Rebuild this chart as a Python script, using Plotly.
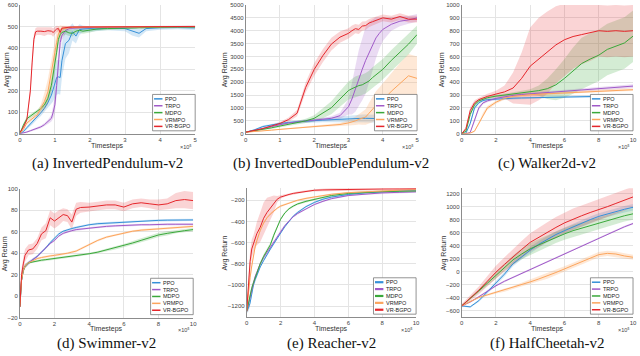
import plotly.graph_objects as go

W, H = 640, 356

names = ["PPO", "TRPO", "MDPO", "VRMPO", "VR-BGPO"]
line_colors = ["#3590d8", "#a05ac8", "#3aa83a", "#fca55d", "#e5262b"]
band_colors = ["rgba(53,144,216,0.22)", "rgba(160,90,200,0.22)", "rgba(58,168,58,0.22)",
               "rgba(252,165,93,0.25)", "rgba(229,38,43,0.2)"]

captions = ["(a) InvertedPendulum-v2", "(b) InvertedDoublePendulum-v2", "(c) Walker2d-v2",
            "(d) Swimmer-v2", "(e) Reacher-v2", "(f) HalfCheetah-v2"]

# ---------------- (a) InvertedPendulum ----------------
a_x = [0, 0.1, 0.2, 0.3, 0.35, 0.4, 0.45, 0.5, 0.6, 0.7, 0.8, 0.9, 0.95, 1.0, 1.05, 1.1, 1.15, 1.2,
       1.3, 1.4, 1.5, 1.6, 1.7, 1.8, 2.0, 2.2, 2.5, 3.0, 3.2, 3.4, 3.6, 4.0, 4.5, 5.0]
a_ppo = [0, 10, 28, 45, 52, 60, 68, 80, 98, 118, 145, 180, 210, 240, 262, 265, 262, 340,
         420, 435, 475, 455, 485, 488, 490, 488, 492, 490, 478, 468, 490, 494, 495, 493]
a_ppo_sd = [0, 5, 8, 10, 10, 10, 10, 12, 15, 18, 25, 40, 60, 70, 80, 80, 80, 80,
            70, 60, 40, 35, 25, 15, 12, 10, 10, 12, 20, 20, 12, 10, 8, 10]
a_trpo = [0, 3, 8, 14, 17, 20, 22, 25, 32, 42, 55, 72, 100, 135, 225, 350, 425, 458,
          480, 490, 492, 493, 494, 494, 495, 495, 496, 496, 497, 497, 497, 498, 498, 498]
a_trpo_sd = [0, 2, 3, 4, 4, 4, 5, 5, 6, 8, 10, 15, 30, 40, 50, 50, 40, 25,
             15, 10, 8, 6, 6, 6, 5, 5, 5, 4, 4, 4, 4, 3, 3, 3]
a_mdpo = [0, 40, 70, 82, 88, 92, 97, 103, 118, 134, 165, 226, 272, 318, 380, 440, 462, 472,
          478, 470, 468, 478, 482, 478, 482, 488, 490, 493, 494, 495, 495, 496, 497, 497]
a_mdpo_sd = [0, 8, 10, 10, 10, 10, 10, 10, 12, 15, 25, 35, 40, 40, 40, 30, 25, 20,
             15, 15, 15, 12, 12, 12, 10, 8, 8, 6, 5, 5, 5, 4, 4, 4]
a_vrmpo = [0, 20, 50, 65, 72, 78, 83, 88, 118, 150, 195, 280, 330, 380, 426, 465, 480, 488,
           492, 494, 495, 496, 496, 497, 497, 497, 498, 498, 498, 498, 498, 499, 499, 499]
a_vrmpo_sd = [0, 5, 8, 10, 10, 10, 10, 12, 20, 40, 60, 70, 70, 60, 50, 35, 25, 15,
              10, 8, 6, 5, 5, 5, 4, 4, 4, 3, 3, 3, 3, 3, 3, 3]
a_vrbgpo = [5, 30, 65, 200, 330, 440, 475, 478, 478, 476, 480, 478, 472, 480, 488, 490, 472, 492,
            495, 496, 497, 497, 497, 497, 498, 498, 498, 499, 499, 499, 499, 500, 500, 500]
a_vrbgpo_sd = [2, 5, 8, 20, 25, 25, 18, 18, 18, 20, 18, 18, 20, 18, 15, 12, 15, 10,
               6, 5, 4, 4, 4, 4, 3, 3, 3, 3, 3, 3, 3, 3, 3, 3]

# ---------------- (b) InvertedDoublePendulum ----------------
b_x = [0, 0.25, 0.5, 0.75, 1.0, 1.25, 1.5, 1.75, 2.0, 2.25, 2.5, 2.75,
       3.0, 3.1, 3.2, 3.3, 3.4, 3.5, 3.6, 3.7, 3.8, 3.9, 4.0, 4.25, 4.5, 4.75, 5.0]
b_ppo = [60, 150, 280, 350, 400, 440, 470, 490, 510, 530, 550, 570,
         580, 585, 590, 595, 600, 600, 600, 600, 600, 595, 590, 580, 570, 560, 550]
b_ppo_sd = [20, 30, 40, 40, 40, 50, 50, 60, 70, 80, 100, 120,
            130, 140, 150, 150, 150, 150, 150, 150, 150, 150, 150, 150, 150, 150, 150]
b_trpo = [60, 120, 200, 280, 350, 420, 460, 490, 520, 560, 600, 700,
          1050, 1350, 1750, 2150, 2500, 2850, 3150, 3450, 3720, 3900, 4050, 4250, 4370, 4420, 4500]
b_trpo_sd = [20, 30, 30, 30, 30, 40, 40, 50, 50, 60, 80, 120,
             300, 600, 900, 1100, 1200, 1300, 1200, 1000, 800, 600, 450, 250, 200, 150, 150]
b_mdpo = [60, 110, 170, 230, 300, 360, 420, 500, 600, 800, 1010, 1350,
          1680, 1750, 1820, 1870, 1900, 1960, 2050, 2180, 2280, 2380, 2500, 2850, 3150, 3480, 3850]
b_mdpo_sd = [20, 20, 30, 30, 40, 50, 60, 80, 120, 200, 250, 300,
             350, 380, 400, 400, 400, 400, 400, 400, 400, 400, 400, 400, 400, 400, 350]
b_vrmpo = [60, 80, 110, 140, 170, 200, 230, 260, 290, 310, 330, 360,
           420, 450, 500, 560, 600, 650, 800, 950, 1100, 1200, 1300, 1650, 1950, 2250, 2150]
b_vrmpo_sd = [10, 15, 15, 20, 20, 20, 25, 25, 30, 30, 40, 60,
              100, 130, 160, 200, 250, 300, 400, 500, 550, 600, 650, 700, 800, 850, 850]
b_vrbgpo = [60, 120, 200, 300, 400, 550, 800, 1800, 2500, 3030, 3480, 3750,
            3900, 4000, 4080, 4050, 4180, 4200, 4300, 4350, 4400, 4450, 4500, 4450, 4550, 4450, 4450]
b_vrbgpo_sd = [20, 30, 40, 50, 60, 80, 120, 200, 250, 250, 250, 220,
               200, 200, 180, 180, 180, 170, 160, 150, 150, 140, 130, 130, 130, 130, 130]

# ---------------- (c) Walker2d ----------------
c_x = [0, 0.25, 0.5, 0.75, 1.0, 1.25, 1.5, 2, 2.5, 3, 3.5, 4, 4.5, 5, 5.5, 6, 6.5, 7, 7.5, 8, 8.5, 9, 9.5, 10]
c_ppo = [0, 5, 80, 200, 240, 258, 265, 270, 273, 276, 278, 280, 282, 284, 285, 286, 287, 288, 289, 290, 290, 290, 290, 290]
c_ppo_sd = [0, 3, 15, 15, 10, 8, 8, 8, 8, 8, 8, 8, 8, 8, 8, 8, 8, 8, 8, 8, 8, 8, 8, 8]
c_trpo = [0, 0, 10, 100, 200, 240, 255, 275, 288, 298, 305, 310, 315, 320, 325, 330, 335, 340, 345, 350, 355, 360, 365, 370]
c_trpo_sd = [0, 0, 5, 15, 15, 10, 10, 10, 10, 10, 10, 10, 10, 10, 10, 10, 10, 10, 10, 12, 12, 14, 14, 15]
c_mdpo = [0, 20, 150, 225, 255, 270, 280, 292, 300, 310, 318, 325, 335, 350, 380, 430, 490, 545, 580, 610, 655, 680, 705, 758]
c_mdpo_sd = [0, 5, 15, 15, 12, 10, 10, 10, 10, 12, 15, 20, 40, 80, 120, 150, 180, 200, 200, 200, 200, 200, 200, 200]
c_vrmpo = [0, 0, 5, 20, 80, 150, 200, 245, 275, 290, 298, 303, 307, 310, 315, 318, 322, 326, 330, 333, 336, 339, 341, 342]
c_vrmpo_sd = [0, 0, 3, 5, 10, 15, 15, 12, 10, 10, 10, 10, 10, 10, 10, 10, 10, 10, 10, 10, 10, 10, 10, 10]
c_vrbgpo = [0, 40, 180, 240, 265, 280, 290, 308, 325, 355, 430, 525, 580, 630, 690, 730, 755, 770, 785, 800, 795, 800, 795, 800]
c_vrbgpo_sd = [0, 15, 25, 20, 15, 15, 20, 25, 50, 120, 200, 300, 320, 320, 300, 280, 250, 230, 220, 200, 200, 200, 200, 200]

# ---------------- (d) Swimmer ----------------
d_x = [0, 0.1, 0.2, 0.3, 0.5, 0.75, 1.0, 1.25, 1.5, 1.75, 2.0, 2.25, 2.5, 2.75, 3.0, 3.25, 3.5,
       4, 4.5, 5, 5.5, 6, 6.5, 7, 7.5, 8, 8.5, 9, 9.5, 10]
d_ppo = [-10, 15, 24, 28, 31, 34, 37, 41, 45, 50, 54, 58, 60.5, 62, 63, 64, 65,
         66.5, 67.5, 68, 68.5, 69, 69.5, 70, 70.3, 70.6, 70.8, 71, 71, 71]
d_ppo_sd = [3, 3, 2, 2, 1.5, 1, 1, 1, 1, 1, 1, 1, 1, 1, 1, 1, 1,
            1, 1, 1, 1, 1, 1, 1, 1, 1, 1, 1, 1, 1]
d_trpo = [-10, 15, 24, 28, 31, 34, 37, 41, 45, 49, 52, 56, 58.5, 60, 61, 62, 62.5,
          63.5, 64.5, 65, 65.5, 66, 66, 66.5, 66.5, 67, 67, 67, 67, 67]
d_trpo_sd = [3, 3, 2, 2, 1.5, 1, 1, 1, 1, 1, 1, 1, 1, 1, 1, 1, 1,
             1, 1, 1, 1, 1, 1, 1, 1, 1, 1, 1, 1, 1]
d_mdpo = [-10, 15, 24, 28, 31, 32, 33, 33.5, 34, 34.5, 35, 35.5, 36, 36.5, 37, 37.5, 38,
          39.5, 41, 43, 45, 47, 49.5, 52, 54.5, 57, 58.5, 60, 61, 62]
d_mdpo_sd = [3, 3, 2, 2, 1, 1, 1, 1, 1, 1, 1, 1, 1, 1, 1, 1, 1,
             1, 1, 1.5, 1.5, 1.5, 2, 2, 2, 2, 2, 1.5, 1.5, 1.5]
d_vrmpo = [-10, 15, 24, 28, 31, 33, 35, 36, 37, 37.5, 38, 38.5, 39, 40, 41, 42, 44,
           48, 52, 55, 57, 59, 60.5, 61.5, 62, 63, 63.5, 64, 64.5, 65]
d_vrmpo_sd = [3, 3, 2, 2, 1, 1, 1, 1, 1, 1, 1, 1, 1, 1, 1, 1, 1,
              1, 1, 1, 1, 1, 1, 1, 1, 1, 1, 1, 1, 1]
d_vrbgpo = [-10, 20, 30, 38, 43, 44, 49, 58, 61, 73, 70, 73, 76, 75, 69, 81, 82.6,
            83, 84, 85, 85, 83, 86, 87, 86, 85, 86, 89, 90, 89]
d_vrbgpo_sd = [4, 6, 6, 6, 5, 5, 5, 6, 7, 7, 7, 7, 6, 6, 7, 6, 5,
               4, 4, 4, 4, 4, 4, 4, 4, 5, 5, 7, 8, 8]

# ---------------- (e) Reacher ----------------
e_x = [0, 0.1, 0.2, 0.3, 0.4, 0.5, 0.6, 0.8, 1.0, 1.2, 1.4, 1.6, 1.8, 2.0,
       2.25, 2.5, 2.75, 3.0, 3.5, 4, 4.5, 5, 6, 7, 8, 9, 10]
e_ppo = [-1250, -1220, -1170, -1080, -1000, -950, -910, -830, -770, -710, -660, -610, -560, -505,
         -450, -400, -350, -315, -260, -220, -190, -170, -145, -130, -118, -110, -105]
e_ppo_sd = [20, 30, 30, 25, 20, 15, 15, 12, 10, 10, 10, 10, 10, 10,
            8, 8, 8, 8, 8, 8, 8, 8, 8, 8, 8, 8, 8]
e_trpo = [-1250, -1180, -1100, -1030, -970, -920, -880, -800, -740, -690, -640, -590, -540, -490,
          -440, -395, -355, -325, -280, -240, -210, -185, -155, -140, -130, -125, -120]
e_trpo_sd = [20, 30, 30, 25, 20, 15, 15, 12, 10, 10, 10, 10, 10, 10,
             8, 8, 8, 8, 8, 8, 8, 8, 8, 8, 8, 8, 8]
e_mdpo = [-1250, -1170, -1100, -1030, -980, -930, -880, -800, -730, -670, -620, -530, -450, -380,
          -320, -280, -255, -235, -210, -190, -170, -155, -135, -125, -118, -115, -112]
e_mdpo_sd = [20, 30, 30, 25, 20, 20, 20, 20, 20, 20, 20, 20, 15, 12,
             10, 10, 10, 10, 10, 10, 10, 10, 10, 10, 10, 10, 10]
e_vrmpo = [-1250, -1050, -930, -820, -720, -640, -580, -485, -415, -365, -330, -300, -275, -255,
           -240, -225, -210, -200, -182, -168, -155, -143, -128, -118, -110, -105, -100]
e_vrmpo_sd = [20, 40, 40, 30, 25, 20, 15, 12, 10, 10, 10, 10, 10, 10,
              8, 8, 8, 8, 8, 8, 8, 8, 8, 8, 8, 8, 8]
e_vrbgpo = [-1250, -1000, -780, -660, -610, -560, -515, -455, -370, -315, -275, -235, -190, -170,
            -155, -145, -135, -128, -115, -105, -102, -100, -97, -95, -93, -92, -90]
e_vrbgpo_sd = [30, 100, 100, 90, 80, 90, 110, 140, 150, 140, 110, 80, 30, 15,
               12, 10, 10, 10, 10, 12, 14, 15, 15, 12, 10, 10, 10]

# ---------------- (f) HalfCheetah ----------------
f_x = [0, 0.5, 1, 1.5, 2, 2.5, 3, 3.5, 4, 4.5, 5, 5.5, 6, 6.5, 7, 7.5, 8, 8.5, 9, 9.5, 10]
f_ppo = [-530, -545, -450, -310, -180, -40, 120, 230, 330, 420, 500, 570, 630, 690, 750, 800, 850, 890, 930, 960, 990]
f_ppo_sd = [10, 15, 20, 25, 30, 35, 40, 45, 50, 50, 50, 50, 50, 50, 50, 50, 50, 50, 50, 50, 50]
f_trpo = [-530, -470, -390, -300, -220, -150, -90, -20, 40, 100, 160, 220, 280, 340, 400, 460, 520, 580, 640, 690, 740]
f_trpo_sd = [10, 12, 15, 15, 15, 15, 15, 15, 15, 15, 15, 15, 15, 15, 15, 15, 15, 15, 15, 15, 15]
f_mdpo = [-530, -420, -300, -180, -60, 70, 180, 270, 350, 410, 470, 530, 580, 630, 670, 710, 750, 790, 820, 860, 890]
f_mdpo_sd = [10, 20, 30, 40, 50, 60, 70, 80, 90, 90, 90, 90, 90, 90, 90, 90, 90, 90, 90, 90, 90]
f_vrmpo = [-530, -460, -400, -360, -320, -285, -250, -205, -160, -115, -70, -15, 40, 95, 150, 210, 260, 280, 270, 240, 220]
f_vrmpo_sd = [10, 15, 15, 20, 20, 25, 25, 30, 30, 35, 40, 40, 40, 40, 40, 40, 40, 40, 40, 40, 40]
f_vrbgpo = [-530, -410, -290, -150, -10, 110, 230, 340, 450, 530, 610, 680, 750, 810, 860, 910, 950, 1000, 1050, 1100, 1150]
f_vrbgpo_sd = [30, 40, 60, 80, 100, 110, 120, 130, 140, 150, 150, 160, 160, 160, 160, 160, 160, 160, 160, 160, 160]

# axis ranges / ticks
x_ranges = [[0, 5], [0, 5], [0, 10], [0, 10], [0, 10], [0, 10]]
x_ticks = [[0, 1, 2, 3, 4, 5], [0, 1, 2, 3, 4, 5], [0, 2, 4, 6, 8, 10],
           [0, 2, 4, 6, 8, 10], [0, 2, 4, 6, 8, 10], [0, 2, 4, 6, 8, 10]]
y_ranges = [[0, 600], [0, 5000], [0, 1000], [-20, 100], [-1304, -87], [-703, 1283]]
y_ticks = [list(range(0, 601, 100)), list(range(0, 5001, 500)), list(range(0, 1001, 100)),
           list(range(-20, 101, 20)), list(range(-1200, -199, 200)), list(range(-600, 1201, 200))]

panels = [
    (a_x, [a_ppo, a_trpo, a_mdpo, a_vrmpo, a_vrbgpo], [a_ppo_sd, a_trpo_sd, a_mdpo_sd, a_vrmpo_sd, a_vrbgpo_sd]),
    (b_x, [b_ppo, b_trpo, b_mdpo, b_vrmpo, b_vrbgpo], [b_ppo_sd, b_trpo_sd, b_mdpo_sd, b_vrmpo_sd, b_vrbgpo_sd]),
    (c_x, [c_ppo, c_trpo, c_mdpo, c_vrmpo, c_vrbgpo], [c_ppo_sd, c_trpo_sd, c_mdpo_sd, c_vrmpo_sd, c_vrbgpo_sd]),
    (d_x, [d_ppo, d_trpo, d_mdpo, d_vrmpo, d_vrbgpo], [d_ppo_sd, d_trpo_sd, d_mdpo_sd, d_vrmpo_sd, d_vrbgpo_sd]),
    (e_x, [e_ppo, e_trpo, e_mdpo, e_vrmpo, e_vrbgpo], [e_ppo_sd, e_trpo_sd, e_mdpo_sd, e_vrmpo_sd, e_vrbgpo_sd]),
    (f_x, [f_ppo, f_trpo, f_mdpo, f_vrmpo, f_vrbgpo], [f_ppo_sd, f_trpo_sd, f_mdpo_sd, f_vrmpo_sd, f_vrbgpo_sd]),
]

# pixel layout of each axes box: (left, right, top, bottom)
boxes = [(18, 195, 2, 133), (246, 419, 2, 133), (464, 637, 2, 133),
         (18, 193, 189, 320), (247, 418, 188.5, 319.5), (464, 637, 188.5, 319.5)]
ylabel_x = [5, 225, 445, 3, 225, 446]
caption_y = [163, 163, 163, 346, 346, 346]


def px(x):
    return x / W


def py(y):
    return 1 - y / H


FONT = "Liberation Sans"
fig = go.Figure()
layout = dict(width=W, height=H, margin=dict(l=0, r=0, t=0, b=0),
              paper_bgcolor="white", plot_bgcolor="white", showlegend=False)
shapes, annos = [], []

for k, (xs, means, sds) in enumerate(panels):
    sfx = "" if k == 0 else str(k + 1)
    xa, ya = "x" + sfx, "y" + sfx
    L, R, T, B = boxes[k]
    # bands first
    for i in range(5):
        up = [m + s for m, s in zip(means[i], sds[i])]
        lo = [m - s for m, s in zip(means[i], sds[i])]
        fig.add_trace(go.Scatter(x=list(xs) + list(xs)[::-1], y=up + lo[::-1], fill="toself",
                                 fillcolor=band_colors[i], line=dict(width=0), mode="lines",
                                 hoverinfo="skip", xaxis=xa, yaxis=ya))
    for i in range(5):
        fig.add_trace(go.Scatter(x=xs, y=means[i], mode="lines", name=names[i],
                                 line=dict(color=line_colors[i], width=1.0),
                                 xaxis=xa, yaxis=ya))
    axstyle = dict(showgrid=True, gridcolor="#e4e4e4", gridwidth=1, zeroline=False,
                   showline=True, linecolor="#8c8c8c", linewidth=0.8, ticks="",
                   tickfont=dict(family=FONT, size=6, color="#444"))
    layout["xaxis" + sfx] = dict(axstyle, domain=[px(L), px(R)], range=x_ranges[k],
                                 tickvals=x_ticks[k], anchor=ya)
    layout["yaxis" + sfx] = dict(axstyle, domain=[py(B), py(T)], range=y_ranges[k],
                                 tickvals=y_ticks[k], anchor=xa)
    # axis titles
    annos.append(dict(x=px((L + R) / 2), y=py(B + 12), xref="paper", yref="paper", text="Timesteps",
                      showarrow=False, font=dict(family=FONT, size=7, color="#333"),
                      xanchor="center", yanchor="middle"))
    annos.append(dict(x=px(ylabel_x[k]), y=py((T + B) / 2), xref="paper", yref="paper",
                      text="Avg Return", textangle=-90, showarrow=False,
                      font=dict(family=FONT, size=7, color="#333"), xanchor="center", yanchor="middle"))
    annos.append(dict(x=px(R - 1), y=py(B + 13), xref="paper", yref="paper", text="×10⁵",
                      showarrow=False, font=dict(family=FONT, size=5.5, color="#444"),
                      xanchor="right", yanchor="middle"))
    # caption
    annos.append(dict(x=px((L + R) / 2), y=py(caption_y[k]), xref="paper", yref="paper", text=captions[k],
                      showarrow=False, font=dict(family="Liberation Serif", size=15, color="#111"),
                      xanchor="center", yanchor="middle"))
    # legend box
    lw, lh = 43, 37
    lL, lB = R - lw, B - 3
    lT = lB - lh
    shapes.append(dict(type="rect", xref="paper", yref="paper", x0=px(lL), x1=px(R), y0=py(lB), y1=py(lT),
                       line=dict(color="#777", width=0.8), fillcolor="white", layer="above"))
    for i in range(5):
        yy = lT + 4.5 + i * 7
        shapes.append(dict(type="line", xref="paper", yref="paper", x0=px(lL + 1.5), x1=px(lL + 10),
                           y0=py(yy), y1=py(yy), line=dict(color=line_colors[i], width=1.5 if k != 4 else 2.2),
                           layer="above"))
        annos.append(dict(x=px(lL + 11), y=py(yy), xref="paper", yref="paper", text=names[i],
                          showarrow=False, font=dict(family=FONT, size=5.5, color="#222"),
                          xanchor="left", yanchor="middle"))

layout["shapes"] = shapes
layout["annotations"] = annos
fig.update_layout(**layout)
fig.write_html("out.html", config={"displayModeBar": False},
               post_script="document.body.style.margin='0';document.body.style.overflow='hidden';")
